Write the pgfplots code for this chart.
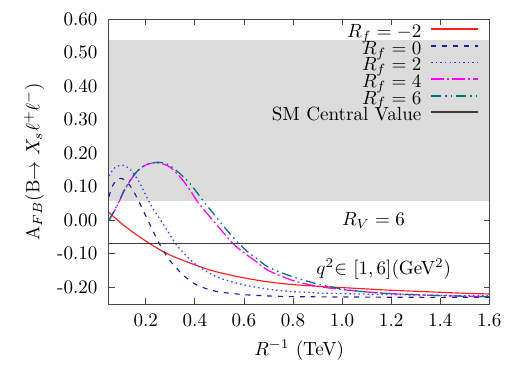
\documentclass[border=0pt]{standalone}
\usepackage{pgfplots}
\pgfplotsset{compat=1.18}

\definecolor{bandgray}{RGB}{220,220,220}
\definecolor{rfminus}{RGB}{255,30,30}
\definecolor{rfzero}{RGB}{30,30,150}
\definecolor{rftwo}{RGB}{60,60,255}
\definecolor{rffour}{RGB}{255,0,255}
\definecolor{rfsix}{RGB}{0,110,130}
\definecolor{smline}{RGB}{60,60,60}
\definecolor{framec}{RGB}{70,70,70}

\begin{document}
\begin{tikzpicture}
\begin{axis}[
  scale only axis,
  width=199.3pt, height=149.2pt,
  xmin=0.05, xmax=1.6, ymin=-0.25, ymax=0.6,
  axis line style={framec, line width=0.5pt},
  tick style={framec, line width=0.4pt},
  tick align=inside, major tick length=2.9pt,
  xtick={0.2,0.4,0.6,0.8,1.0,1.2,1.4,1.6},
  xticklabels={0.2,0.4,0.6,0.8,1.0,1.2,1.4,1.6},
  ytick={-0.2,-0.1,0,0.1,0.2,0.3,0.4,0.5,0.6},
  yticklabels={-0.20,-0.10,0.00,0.10,0.20,0.30,0.40,0.50,0.60},
  yticklabel style={xshift=-2.5pt},
  xticklabel style={yshift=-1.5pt},
  xlabel={$R^{-1}$ (TeV)},
  ylabel={A$_{FB}$(B$\rightarrow X_s\ell^+\ell^-$)},
  legend cell align=right,
  legend plot pos=right,
  legend image code/.code={%
    \draw[#1, line width=0.9pt] (0pt,2.4pt) -- (24.6pt,2.4pt);},
  legend style={at={(1,1)}, anchor=north east, xshift=-5.2pt, yshift=-3.1pt,
    draw=none, fill=none, inner sep=0pt, row sep=0pt, column sep=4.7pt,
    nodes={inner sep=0pt, text height=6.3pt, text depth=2.4pt}},
]

% experimental band
\addplot[draw=none, fill=bandgray, forget plot]
  coordinates {(0.05,0.058) (1.6,0.058) (1.6,0.537) (0.05,0.537)} -- cycle;

% R_f = -2
\addplot[color=rfminus, line width=0.6pt, smooth] coordinates {
  (0.05,0.023) (0.1,-0.009) (0.15,-0.037) (0.2,-0.062) (0.25,-0.085)
  (0.3,-0.104) (0.35,-0.119) (0.4,-0.133) (0.45,-0.146) (0.5,-0.156)
  (0.6,-0.172) (0.7,-0.184) (0.8,-0.192) (0.9,-0.197) (1.0,-0.201)
  (1.1,-0.205) (1.2,-0.209) (1.3,-0.212) (1.4,-0.215) (1.5,-0.218)
  (1.6,-0.220)};
\addlegendentry{$R_f = -2$}

% R_f = 0
\addplot[color=rfzero, line width=0.6pt, smooth, dash pattern=on 2.6pt off 3.1pt] coordinates {
  (0.05,0.07) (0.06,0.095) (0.075,0.115) (0.095,0.125) (0.115,0.12)
  (0.135,0.104) (0.155,0.08) (0.176,0.05) (0.2,0.013) (0.225,-0.025)
  (0.25,-0.063) (0.275,-0.095) (0.3,-0.122) (0.35,-0.162) (0.4,-0.19)
  (0.45,-0.205) (0.5,-0.214) (0.6,-0.222) (0.7,-0.226) (0.8,-0.228)
  (1.0,-0.229) (1.3,-0.230) (1.6,-0.230)};
\addlegendentry{$R_f = 0$}

% R_f = 2
\addplot[color=rftwo, line width=0.65pt, smooth, dash pattern=on 0.8pt off 1.6pt] coordinates {
  (0.05,0.132) (0.07,0.155) (0.09,0.163) (0.108,0.164) (0.13,0.156)
  (0.15,0.14) (0.17,0.118) (0.19,0.09) (0.21,0.06) (0.23,0.034)
  (0.25,0.012) (0.27,-0.01) (0.3,-0.045) (0.33,-0.078) (0.38,-0.117)
  (0.43,-0.145) (0.5,-0.172) (0.6,-0.193) (0.7,-0.206) (0.8,-0.213)
  (0.9,-0.217) (1.0,-0.219) (1.2,-0.222) (1.4,-0.224) (1.6,-0.225)};
\addlegendentry{$R_f = 2$}

% R_f = 4
\addplot[color=rffour, line width=0.65pt, smooth, dash pattern=on 6.8pt off 1.6pt on 1pt off 1.6pt] coordinates {
  (0.05,0.0) (0.07,0.025) (0.088,0.05) (0.11,0.085) (0.129,0.11)
  (0.15,0.132) (0.169,0.149) (0.2,0.165) (0.237,0.172) (0.27,0.168)
  (0.3,0.158) (0.346,0.124) (0.38,0.09) (0.41,0.057) (0.45,0.02)
  (0.5,-0.023) (0.556,-0.07) (0.6,-0.097) (0.64,-0.118) (0.7,-0.15)
  (0.8,-0.18) (0.9,-0.197) (1.0,-0.207) (1.1,-0.214) (1.2,-0.219)
  (1.4,-0.225) (1.6,-0.228)};
\addlegendentry{$R_f = 4$}

% R_f = 6
\addplot[color=rfsix, line width=0.65pt, smooth, dash pattern=on 5.2pt off 2.1pt on 0.8pt off 2.1pt on 0.8pt off 2.1pt] coordinates {
  (0.05,0.0) (0.07,0.027) (0.09,0.055) (0.11,0.087) (0.13,0.112)
  (0.15,0.134) (0.17,0.15) (0.2,0.166) (0.25,0.173) (0.29,0.167)
  (0.33,0.145) (0.38,0.11) (0.434,0.058) (0.46,0.034) (0.5,-0.002)
  (0.54,-0.038) (0.58,-0.07) (0.62,-0.097) (0.652,-0.114) (0.7,-0.14)
  (0.8,-0.169) (0.9,-0.19) (1.0,-0.205) (1.1,-0.214) (1.2,-0.219)
  (1.4,-0.225) (1.6,-0.228)};
\addlegendentry{$R_f = 6$}

% Standard Model central value
\addplot[color=smline, line width=0.75pt] coordinates {(0.05,-0.07) (1.6,-0.07)};
\addlegendentry{SM Central Value}

\node at (axis cs:1.128,0.0) {$R_V = 6$};
\node at (axis cs:1.170,-0.146) {$q^2$$\in$ $[1,6]$(GeV$^2$)};
\end{axis}
\path (current axis.south west) ++(-57.1pt,-33.5pt) rectangle ++(275.1pt,192.8pt);
\end{tikzpicture}
\end{document}
